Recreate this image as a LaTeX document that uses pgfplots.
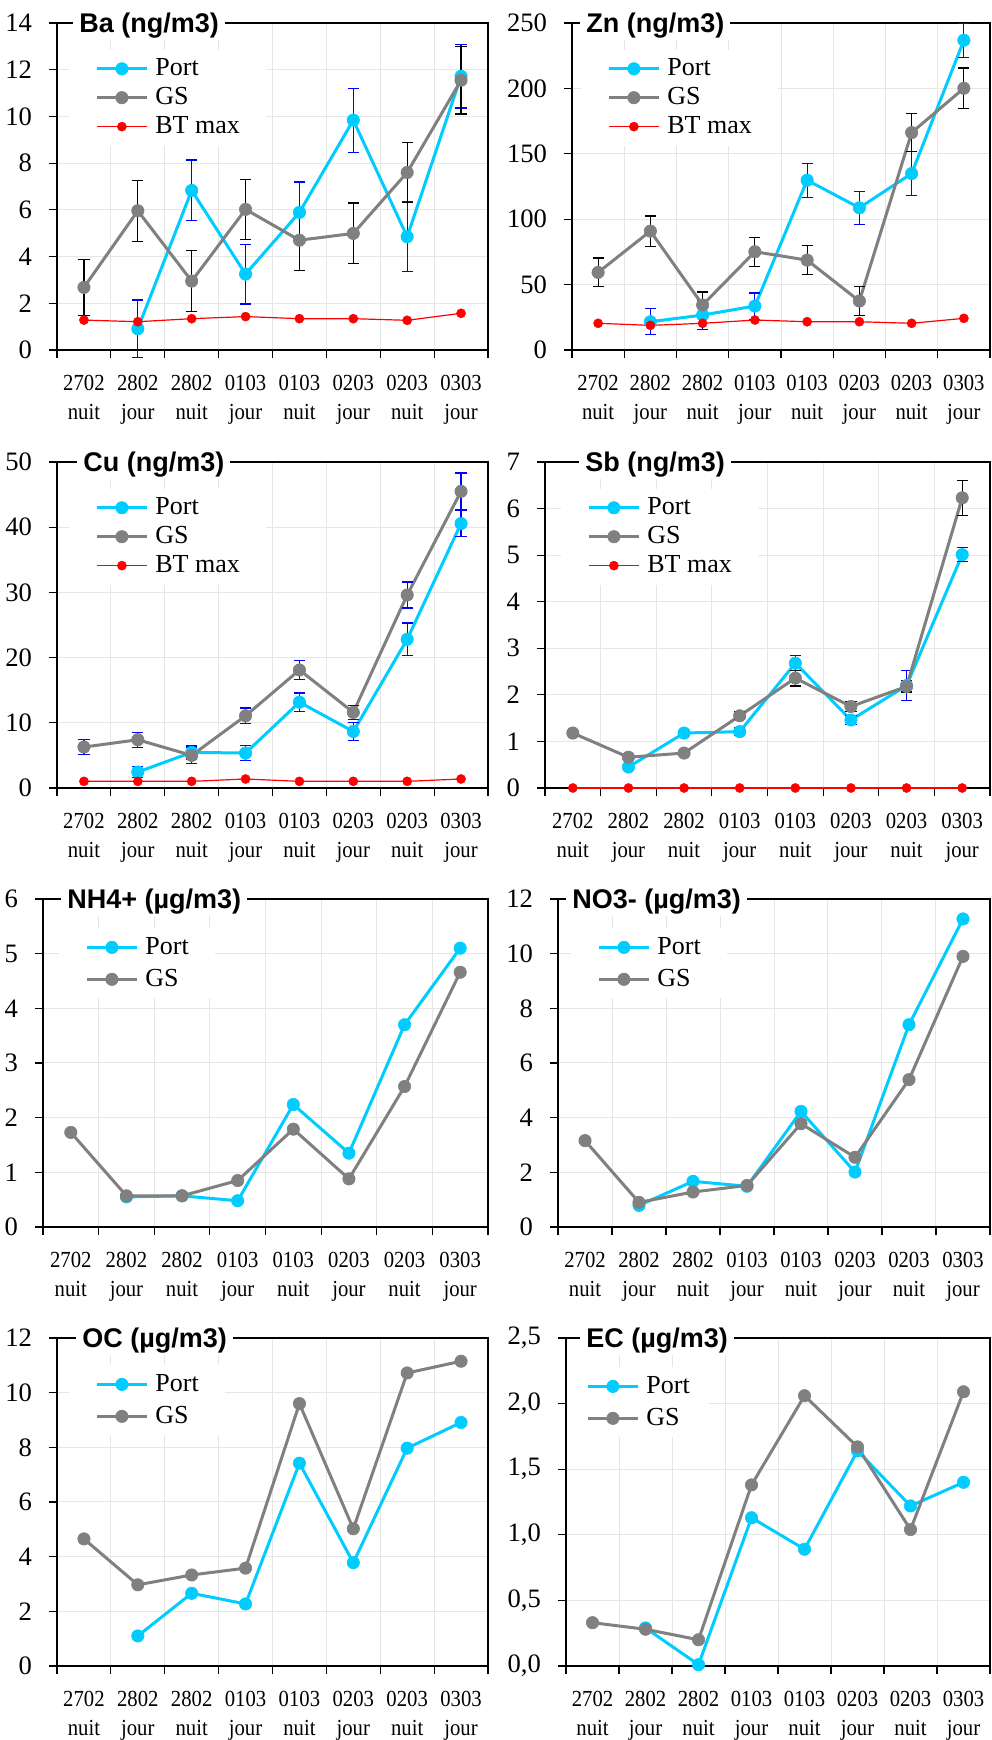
\documentclass[border=0pt]{standalone}
\usepackage{fontspec}
\setmainfont{Liberation Serif}
\newfontfamily\sansb{Liberation Sans}
\newfontfamily\xfont{Liberation Serif}[FakeStretch=0.9]
\usepackage{pgfplots}
\pgfplotsset{compat=1.18}
\definecolor{cport}{RGB}{0,204,255}
\definecolor{cgs}{RGB}{128,128,128}
\definecolor{cbt}{RGB}{255,0,0}
\definecolor{ceb}{RGB}{0,0,255}
\definecolor{cgrid}{RGB}{230,230,230}
\pgfplotsset{
 panel/.style={
  scale only axis, clip=false,
  xmin=0, xmax=8, ymin=0,
  xtick={0,1,...,8}, xticklabels={,,,,,,,,},
  extra x ticks={0.5,1.5,2.5,3.5,4.5,5.5,6.5,7.5},
  extra x tick labels={{2702\\nuit},{2802\\jour},{2802\\nuit},{0103\\jour},{0103\\nuit},{0203\\jour},{0203\\nuit},{0303\\jour}},
  extra x tick style={major tick length=0pt, xmajorgrids=false, tick style={draw=none}},
  xmajorgrids=true, ymajorgrids=true,
  grid style={line width=0.5pt, draw=cgrid},
  major grid style={line width=0.5pt, draw=cgrid},
  tick align=outside, tick pos=left,
  major tick length=4pt,
  tick style={black, line width=0.6pt},
  axis line style={line width=0.6pt, black},
  /pgf/number format/assume math mode=true,
  yticklabel style={font=\fontsize{13.3}{15}\selectfont, xshift=-5pt},
  xticklabel style={font=\xfont\fontsize{11.5}{14.5}\selectfont, align=center, yshift=-9pt},
  every axis title/.style={at={(axis description cs:0,1)}, anchor=west, yshift=-1.4pt, fill=white, inner xsep=3pt, inner ysep=1pt, font=\sansb\bfseries\fontsize{13.5}{15}\selectfont},
  legend style={at={(axis description cs:0,1)}, anchor=north west, draw=none, fill=white,
    font=\fontsize{13}{15}\selectfont, inner xsep=9.5pt, inner ysep=3pt, row sep=1.4pt,
    nodes={inner xsep=3.5pt, inner ysep=1.5pt}},
  legend cell align=left,
  legend image code/.code={\path (0pt,0pt); \draw[mark repeat=2,mark phase=2,##1] plot coordinates {(3.5pt,0pt) (16pt,0pt) (28.5pt,0pt)};},
 },
 two/.style={legend style={row sep=2.9pt}},
 port/.style={color=cport, line width=1.5pt, mark=*, mark size=3.1pt, mark options={solid, fill=cport, draw=cport, line width=0.3pt}},
 gs/.style={color=cgs, line width=1.5pt, mark=*, mark size=3.1pt, mark options={solid, fill=cgs, draw=cgs, line width=0.3pt}},
 bt/.style={color=cbt, line width=0.6pt, mark=*, mark size=2.3pt, mark options={solid, fill=cbt, draw=cbt, line width=0.2pt}},
 ebblue/.style={error bars/.cd, y dir=both, y explicit, error bar style={ceb, line width=0.6pt, solid}, error mark options={ceb, line width=0.6pt, mark size=2.8pt, rotate=90}},
 ebblack/.style={error bars/.cd, y dir=both, y explicit, error bar style={black, line width=0.6pt, solid}, error mark options={black, line width=0.6pt, mark size=2.8pt, rotate=90}},
}
\begin{document}
\begin{tikzpicture}
\useasboundingbox (0,0) rectangle (495.5pt,870pt);
% ---------- Ba
\begin{axis}[panel, at={(28.5pt,695pt)}, anchor=south west, width=215.5pt, height=163.5pt,
  ymax=14, ytick={0,2,...,14}, title={Ba (ng/m3)}, title style={xshift=8pt},
  legend style={xshift=6pt, yshift=-13.2pt}]
\addplot[port, ebblue] coordinates {(1.5,0.91)+-(0,1.23) (2.5,6.83)+-(0,1.3) (3.5,3.25)+-(0,1.28) (4.5,5.89)+-(0,1.3) (5.5,9.84)+-(0,1.37) (6.5,4.85)+-(0,1.5) (7.5,11.72)+-(0,1.36)};
\addplot[gs, ebblack] coordinates {(0.5,2.68)+-(0,1.2) (1.5,5.96)+-(0,1.3) (2.5,2.95)+-(0,1.3) (3.5,6.02)+-(0,1.28) (4.5,4.70)+-(0,1.3) (5.5,4.99)+-(0,1.3) (6.5,7.60)+-(0,1.3) (7.5,11.55)+-(0,1.45)};
\addplot[bt] coordinates {(0.5,1.28) (1.5,1.21) (2.5,1.34) (3.5,1.43) (4.5,1.34) (5.5,1.34) (6.5,1.27) (7.5,1.57)};
\legend{Port,GS,BT max}
\end{axis}
% ---------- Zn
\begin{axis}[panel, at={(286pt,695pt)}, anchor=south west, width=209pt, height=163.5pt,
  ymax=250, ytick={0,50,...,250}, title={Zn (ng/m3)}, title style={xshift=4pt},
  legend style={xshift=4.5pt, yshift=-13.2pt}]
\addplot[port, ebblue] coordinates {(1.5,21.6)+-(0,10) (2.5,26.7)+-(0,11) (3.5,33.6)+-(0,10) (4.5,129.8)+-(0,13) (5.5,108.7)+-(0,12.5) (6.5,134.9)+-(0,17) (7.5,236.8)+-(0,13)};
\addplot[gs, ebblack] coordinates {(0.5,59.3)+-(0,11) (1.5,90.9)+-(0,11.5) (2.5,34.4)+-(0,10) (3.5,75.1)+-(0,11) (4.5,68.7)+-(0,11) (5.5,37.4)+-(0,11) (6.5,166.2)+-(0,14.5) (7.5,200.1)+-(0,15.5)};
\addplot[bt] coordinates {(0.5,20.4) (1.5,18.8) (2.5,20.4) (3.5,22.9) (4.5,21.6) (5.5,21.6) (6.5,20.4) (7.5,24.2)};
\legend{Port,GS,BT max}
\end{axis}
% ---------- Cu
\begin{axis}[panel, at={(28.5pt,476pt)}, anchor=south west, width=215.5pt, height=163pt,
  ymax=50, ytick={0,10,...,50}, title={Cu (ng/m3)}, title style={xshift=10pt},
  legend style={xshift=6pt, yshift=-13.2pt}]
\addplot[port, ebblue] coordinates {(1.5,2.45)+-(0,0.9) (2.5,5.46)+-(0,1.0) (3.5,5.36)+-(0,1.1) (4.5,13.16)+-(0,1.4) (5.5,8.67)+-(0,1.35) (6.5,22.8)+-(0,2.5) (7.5,40.56)+-(0,2.0)};
\addplot[gs, ebblue] coordinates {(0.5,6.28)+-(0,1.15) (1.5,7.4)+-(0,1.15) (2.5,5.0)+-(0,1.3) (3.5,11.07)+-(0,1.2) (4.5,18.1)+-(0,1.5) (5.5,11.6)+-(0,1.1) (6.5,29.6)+-(0,2.0) (7.5,45.5)+-(0,2.8)};
\addplot[bt] coordinates {(0.5,1.02) (1.5,1.02) (2.5,1.02) (3.5,1.38) (4.5,1.02) (5.5,1.02) (6.5,1.02) (7.5,1.38)};
\legend{Port,GS,BT max}
\end{axis}
% ---------- Sb
\begin{axis}[panel, at={(272.5pt,476pt)}, anchor=south west, width=222.5pt, height=163pt,
  ymax=7, ytick={0,1,...,7}, title={Sb (ng/m3)}, title style={xshift=17pt},
  legend style={xshift=8pt, yshift=-13.2pt}]
\addplot[port, ebblue] coordinates {(1.5,0.45)+-(0,0.03) (2.5,1.18)+-(0,0.05) (3.5,1.21)+-(0,0.08) (4.5,2.68)+-(0,0.16) (5.5,1.46)+-(0,0.1) (6.5,2.2)+-(0,0.32) (7.5,5.01)+-(0,0.15)};
\addplot[gs, ebblack] coordinates {(0.5,1.18)+-(0,0.05) (1.5,0.66)+-(0,0.05) (2.5,0.75)+-(0,0.05) (3.5,1.55)+-(0,0.08) (4.5,2.36)+-(0,0.17) (5.5,1.75)+-(0,0.1) (6.5,2.18)+-(0,0.12) (7.5,6.23)+-(0,0.38)};
\addplot[bt] coordinates {(0.5,0) (1.5,0) (2.5,0) (3.5,0) (4.5,0) (5.5,0) (6.5,0) (7.5,0)};
\legend{Port,GS,BT max}
\end{axis}
% ---------- NH4
\begin{axis}[panel, two, at={(21.5pt,256.5pt)}, anchor=south west, width=222.5pt, height=164pt,
  ymax=6, ytick={0,1,...,6}, title={NH4+ (µg/m3)}, title style={xshift=9pt},
  legend style={xshift=8pt, yshift=-14.5pt}]
\addplot[port] coordinates {(1.5,0.55) (2.5,0.57) (3.5,0.48) (4.5,2.24) (5.5,1.35) (6.5,3.70) (7.5,5.10)};
\addplot[gs] coordinates {(0.5,1.73) (1.5,0.57) (2.5,0.57) (3.5,0.85) (4.5,1.79) (5.5,0.88) (6.5,2.57) (7.5,4.66)};
\legend{Port,GS}
\end{axis}
% ---------- NO3
\begin{axis}[panel, two, at={(279pt,256.5pt)}, anchor=south west, width=216pt, height=164pt,
  ymax=12, ytick={0,2,...,12}, title={NO3- (µg/m3)}, title style={xshift=4pt},
  legend style={xshift=6.5pt, yshift=-14.5pt}]
\addplot[port] coordinates {(1.5,0.79) (2.5,1.67) (3.5,1.49) (4.5,4.23) (5.5,2.01) (6.5,7.40) (7.5,11.27)};
\addplot[gs] coordinates {(0.5,3.16) (1.5,0.90) (2.5,1.28) (3.5,1.52) (4.5,3.78) (5.5,2.55) (6.5,5.39) (7.5,9.9)};
\legend{Port,GS}
\end{axis}
% ---------- OC
\begin{axis}[panel, two, at={(28.5pt,37pt)}, anchor=south west, width=215.5pt, height=164pt,
  ymax=12, ytick={0,2,...,12}, title={OC (µg/m3)}, title style={xshift=9.5pt},
  legend style={xshift=6pt, yshift=-13.5pt}]
\addplot[port] coordinates {(1.5,1.1) (2.5,2.66) (3.5,2.27) (4.5,7.42) (5.5,3.78) (6.5,7.97) (7.5,8.91)};
\addplot[gs] coordinates {(0.5,4.65) (1.5,2.97) (2.5,3.33) (3.5,3.58) (4.5,9.6) (5.5,5.02) (6.5,10.72) (7.5,11.15)};
\legend{Port,GS}
\end{axis}
% ---------- EC
\begin{axis}[panel, two, at={(283pt,37pt)}, anchor=south west, width=212pt, height=164pt,
  ymax=2.5, ytick={0,0.5,...,2.5}, title={EC (µg/m3)}, title style={xshift=7pt},
  yticklabel style={/pgf/number format/.cd, fixed, fixed zerofill, precision=1, use comma},
  legend style={xshift=0.5pt, yshift=-14.5pt, inner xsep=6pt}]
\addplot[port] coordinates {(1.5,0.29) (2.5,0.01) (3.5,1.13) (4.5,0.89) (5.5,1.64) (6.5,1.22) (7.5,1.40)};
\addplot[gs] coordinates {(0.5,0.33) (1.5,0.28) (2.5,0.20) (3.5,1.38) (4.5,2.06) (5.5,1.67) (6.5,1.04) (7.5,2.09)};
\legend{Port,GS}
\end{axis}
\end{tikzpicture}
\end{document}
